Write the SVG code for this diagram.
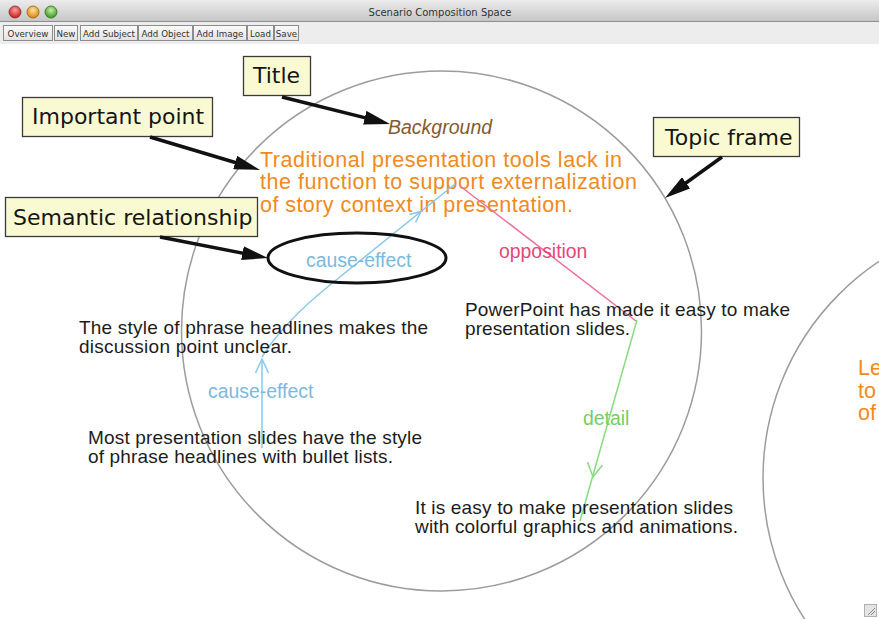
<svg xmlns="http://www.w3.org/2000/svg" width="879" height="619" viewBox="0 0 879 619">
  <defs>
    <linearGradient id="titlebar" x1="0" y1="0" x2="0" y2="1">
      <stop offset="0" stop-color="#ececec"/>
      <stop offset="1" stop-color="#c6c6c6"/>
    </linearGradient>
    <linearGradient id="btn" x1="0" y1="0" x2="0" y2="1">
      <stop offset="0" stop-color="#fbfbfb"/>
      <stop offset="1" stop-color="#e2e2e2"/>
    </linearGradient>
    <radialGradient id="red" cx="0.5" cy="0.35" r="0.6">
      <stop offset="0" stop-color="#f7a0a0"/>
      <stop offset="1" stop-color="#c8231e"/>
    </radialGradient>
    <radialGradient id="amber" cx="0.5" cy="0.35" r="0.6">
      <stop offset="0" stop-color="#fde1a0"/>
      <stop offset="1" stop-color="#e08a0e"/>
    </radialGradient>
    <radialGradient id="lime" cx="0.5" cy="0.35" r="0.6">
      <stop offset="0" stop-color="#c4f0a8"/>
      <stop offset="1" stop-color="#3f9e22"/>
    </radialGradient>
    <!-- filled head for the annotation pointers -->
    <marker id="pointer" markerUnits="userSpaceOnUse" markerWidth="26" markerHeight="14"
            viewBox="0 0 26 14" refX="8" refY="7" orient="auto">
      <path d="M0,0 L26,7 L0,14 z" fill="#111"/>
    </marker>
    <style>
      .btn rect { fill: url(#btn); stroke: #8c8c8c; stroke-width: 1; }
      .btn text { font-family: "DejaVu Sans", "Liberation Sans", sans-serif; font-size: 8.7px; fill: #333; text-anchor: middle; }
      .frame { fill: none; stroke: #9c9c9c; stroke-width: 1.5; }
      .callout rect { fill: #fafad2; stroke: #3a3a3a; stroke-width: 1.3; }
      .callout text { font-family: "DejaVu Sans", "Liberation Sans", sans-serif; font-size: 22px; fill: #151515; }
      .pointer { fill: none; stroke: #111; stroke-width: 3.5; marker-end: url(#pointer); }
      .app { font-family: "Liberation Sans", Arial, sans-serif; }
      .topic { font-size: 21.5px; fill: #ef8a22; }
      .heading { font-size: 19.5px; font-style: italic; fill: #86592f; }
      .stmt { font-size: 19px; fill: #1c1c1c; }
      .rel { font-size: 19.4px; }
      .cause { stroke: #8cc6ea; fill: none; stroke-width: 1.5; }
      .oppose { stroke: #ee6e9c; fill: none; stroke-width: 1.5; }
      .detail { stroke: #86dc7e; fill: none; stroke-width: 1.5; }
    </style>
  </defs>

  <!-- window background -->
  <rect x="0" y="0" width="879" height="619" fill="#ffffff"/>

  <!-- title bar -->
  <g id="titlebar">
    <rect x="0" y="0" width="879" height="21" fill="url(#titlebar)"/>
    <line x1="0" y1="21.5" x2="879" y2="21.5" stroke="#8e8e8e" stroke-width="1"/>
    <circle cx="15" cy="12" r="6" fill="url(#red)" stroke="#8a2a22" stroke-width="0.8"/>
    <circle cx="33" cy="12" r="6" fill="url(#amber)" stroke="#8f5e10" stroke-width="0.8"/>
    <circle cx="51" cy="12" r="6" fill="url(#lime)" stroke="#2f6e1e" stroke-width="0.8"/>
    <text x="440" y="16" text-anchor="middle" font-family="DejaVu Sans, Liberation Sans, sans-serif" font-size="10" fill="#333">Scenario Composition Space</text>
  </g>

  <!-- toolbar -->
  <g id="toolbar">
    <rect x="0" y="22" width="879" height="22" fill="#ededed"/>
    <g class="btn"><rect x="3.5" y="25.5" width="49" height="15"/><text x="28" y="36.5">Overview</text></g>
    <g class="btn"><rect x="54.5" y="25.5" width="23" height="15"/><text x="66" y="36.5">New</text></g>
    <g class="btn"><rect x="80.5" y="25.5" width="57" height="15"/><text x="109" y="36.5">Add Subject</text></g>
    <g class="btn"><rect x="138.5" y="25.5" width="54" height="15"/><text x="165.5" y="36.5">Add Object</text></g>
    <g class="btn"><rect x="193.5" y="25.5" width="53" height="15"/><text x="220" y="36.5">Add Image</text></g>
    <g class="btn"><rect x="247.5" y="25.5" width="26" height="15"/><text x="260.5" y="36.5">Load</text></g>
    <g class="btn"><rect x="274.5" y="25.5" width="24" height="15"/><text x="286.5" y="36.5">Save</text></g>
  </g>

  <!-- topic frames -->
  <g id="frame-background">
    <circle class="frame" cx="441.5" cy="331" r="260"/>
    <text class="app heading" x="388" y="134">Background</text>
    <text class="app topic" x="260" y="166.5" textLength="362">Traditional presentation tools lack in</text>
    <text class="app topic" x="260" y="189" textLength="377">the function to support externalization</text>
    <text class="app topic" x="260" y="211.5" textLength="313">of story context in presentation.</text>
  </g>

  <g id="frame-next">
    <circle class="frame" cx="1023" cy="478" r="260"/>
    <text class="app topic" x="858" y="375">Le</text>
    <text class="app topic" x="858" y="397.5">to</text>
    <text class="app topic" x="858" y="420">of</text>
  </g>

  <!-- relation connectors -->
  <g id="connectors">
    <path class="cause" d="M262,357 C280,328 305,305 330,285 L455,184"/>
    <path class="cause" d="M409.3,214.5 L421,211.5 L415.5,222.3"/>
    <path class="cause" d="M262,448 L262,359"/>
    <path class="cause" d="M255.5,373 L262,359 L268.5,373"/>
    <path class="oppose" d="M460,186 L636,321"/>
    <path class="detail" d="M637,320 L580,521"/>
    <path class="detail" d="M587.5,462 L593,477 L602.5,465"/>
    <text class="app rel" x="306" y="267" fill="#7ab9e0">cause-effect</text>
    <text class="app rel" x="208" y="398" fill="#7ab9e0">cause-effect</text>
    <text class="app rel" x="499" y="258" fill="#e8457a">opposition</text>
    <text class="app rel" x="583" y="425" fill="#6fd160">detail</text>
  </g>

  <!-- statement nodes -->
  <g id="node-phrase-headlines">
    <text class="app stmt" x="79" y="334" textLength="349">The style of phrase headlines makes the</text>
    <text class="app stmt" x="79" y="353" textLength="213">discussion point unclear.</text>
  </g>
  <g id="node-bullet-lists">
    <text class="app stmt" x="88" y="444" textLength="334">Most presentation slides have the style</text>
    <text class="app stmt" x="88" y="463" textLength="305">of phrase headlines with bullet lists.</text>
  </g>
  <g id="node-powerpoint">
    <text class="app stmt" x="465" y="316" textLength="325">PowerPoint has made it easy to make</text>
    <text class="app stmt" x="465" y="335" textLength="165">presentation slides.</text>
  </g>
  <g id="node-graphics">
    <text class="app stmt" x="415" y="514" textLength="318">It is easy to make presentation slides</text>
    <text class="app stmt" x="415" y="533" textLength="323">with colorful graphics and animations.</text>
  </g>

  <!-- annotation callouts -->
  <g id="callout-title" class="callout">
    <rect x="243.5" y="56.5" width="67" height="39"/>
    <text x="253" y="83">Title</text>
  </g>
  <g id="callout-important" class="callout">
    <rect x="22.5" y="97.5" width="190" height="39"/>
    <text x="32" y="124">Important point</text>
  </g>
  <g id="callout-semantic" class="callout">
    <rect x="5.5" y="197.5" width="252" height="39"/>
    <text x="13" y="225">Semantic relationship</text>
  </g>
  <g id="callout-topic" class="callout">
    <rect x="653.5" y="117.5" width="146" height="39"/>
    <text x="665" y="145">Topic frame</text>
  </g>

  <g id="annotation-pointers">
    <path class="pointer" d="M282,97 L372.5,119.6"/>
    <path class="pointer" d="M150,137 L242.8,164.8"/>
    <path class="pointer" d="M160,237 L250.3,254.6"/>
    <path class="pointer" d="M722,157 L679.6,187.5"/>
    <ellipse cx="357" cy="258" rx="89" ry="25" fill="none" stroke="#111" stroke-width="3"/>
  </g>

  <!-- resize grip -->
  <g id="resize-grip">
    <rect x="864.5" y="604.5" width="12" height="12" fill="#e4e4e4" stroke="#b0b0b0" stroke-width="1"/>
    <path d="M868,615 L875,608 M871,615 L875,611" stroke="#888" stroke-width="1"/>
  </g>
</svg>
